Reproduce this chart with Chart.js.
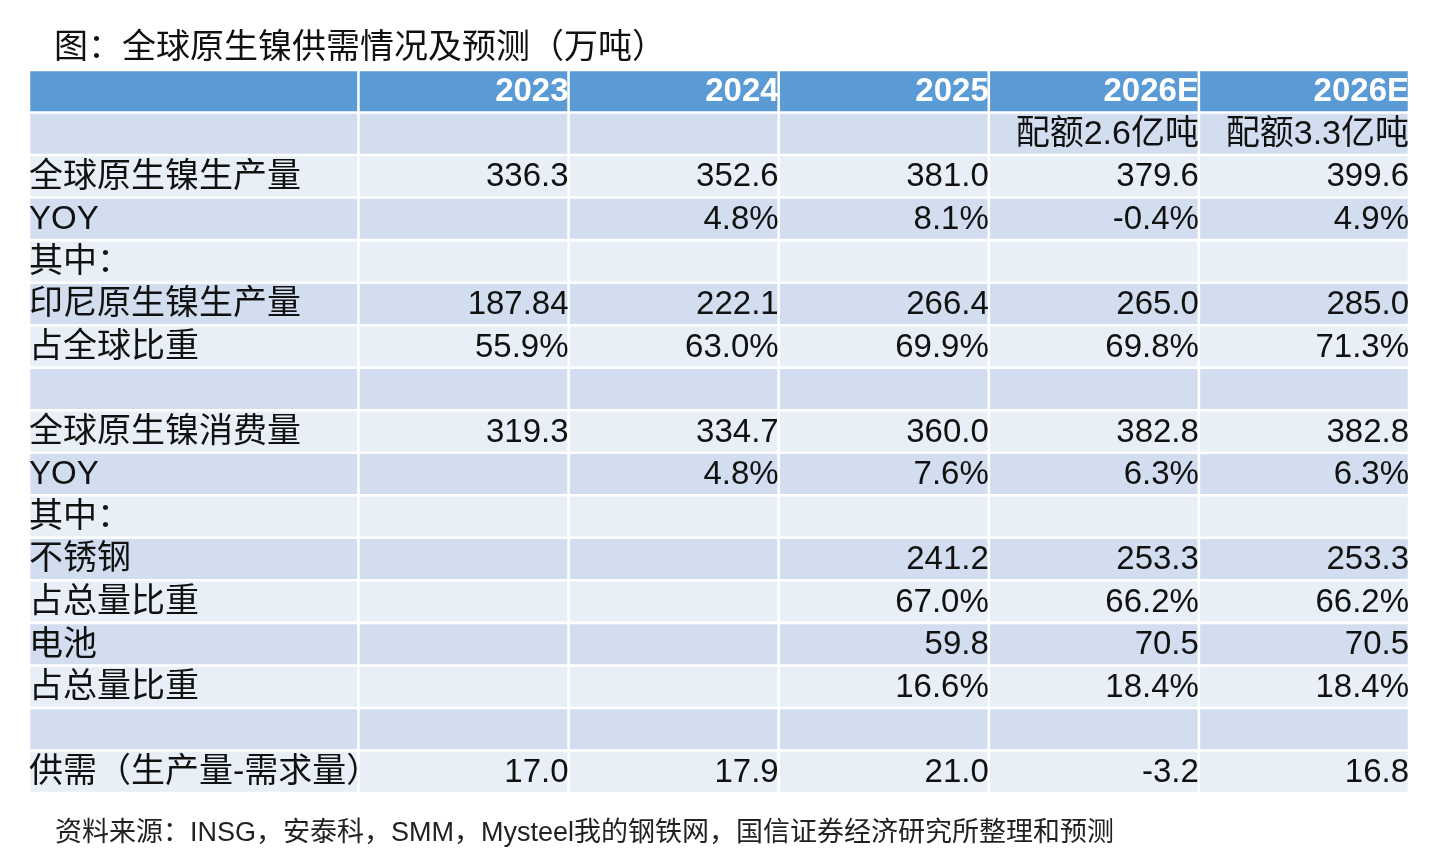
<!DOCTYPE html>
<html>
<head>
<meta charset="utf-8">
<script src="https://cdn.jsdelivr.net/npm/chart.js@4.4.1/dist/chart.umd.min.js"></script>
<style>
  html, body { margin: 0; padding: 0; background: #fff; }
  #wrap { position: relative; width: 1440px; height: 852px; }
  #title { position: absolute; left: 54px; top: 19px; font: 34px "Noto Sans CJK SC", sans-serif; color: #111; white-space: nowrap; }
  #source { position: absolute; left: 55px; top: 810px; font: 27px "Liberation Sans", "Noto Sans CJK SC", sans-serif; color: #222; white-space: nowrap; }
  canvas { position: absolute; left: 0; top: 0; }
</style>
</head>
<body>
<div id="wrap">
  <canvas id="tableChart" width="1440" height="852"></canvas>
  <div id="title">图：全球原生镍供需情况及预测（万吨）</div>
  <div id="source">资料来源：INSG，安泰科，SMM，Mysteel我的钢铁网，国信证券经济研究所整理和预测</div>
</div>
<script>
// Data (万吨 / %)
const years = ['2023', '2024', '2025', '2026E', '2026E'];
const scenarios = ['', '', '', '配额2.6亿吨', '配额3.3亿吨'];
const prodGlobal = [336.3, 352.6, 381.0, 379.6, 399.6];
const prodYoy = [null, 4.8, 8.1, -0.4, 4.9];
const prodIndo = [187.84, 222.1, 266.4, 265.0, 285.0];
const indoShare = [55.9, 63.0, 69.9, 69.8, 71.3];
const consGlobal = [319.3, 334.7, 360.0, 382.8, 382.8];
const consYoy = [null, 4.8, 7.6, 6.3, 6.3];
const stainless = [null, null, 241.2, 253.3, 253.3];
const stainlessShare = [null, null, 67.0, 66.2, 66.2];
const battery = [null, null, 59.8, 70.5, 70.5];
const batteryShare = [null, null, 16.6, 18.4, 18.4];
const balance = [17.0, 17.9, 21.0, -3.2, 16.8];

// Table rows: [label, values, kind]
const rows = [
    ['', years, 'head'],
    ['', scenarios, 'text'],
    ['全球原生镍生产量', prodGlobal, 'num'],
    ['YOY', prodYoy, 'pct'],
    ['其中：', [], 'num'],
    ['印尼原生镍生产量', prodIndo, 'num'],
    ['占全球比重', indoShare, 'pct'],
    ['', [], 'num'],
    ['全球原生镍消费量', consGlobal, 'num'],
    ['YOY', consYoy, 'pct'],
    ['其中：', [], 'num'],
    ['不锈钢', stainless, 'num'],
    ['占总量比重', stainlessShare, 'pct'],
    ['电池', battery, 'num'],
    ['占总量比重', batteryShare, 'pct'],
    ['', [], 'num'],
    ['供需（生产量-需求量）', balance, 'num']
];

// Column edges on the x scale (label column is wider)
const colEdges = [0, 1.568, 2.568, 3.568, 4.568, 5.568, 6.568];

const HEAD_BG = '#5b9bd5';
const DARK_BG = '#d2deef';
const LIGHT_BG = '#e9eff7';
const FONT = '"Liberation Sans", "Noto Sans CJK SC", sans-serif';
const hasCJK = s => /[\u3000-\u9fff\uff00-\uffef]/.test(s);

function fmt(v, kind) {
    if (v === null || v === undefined || v === '') return '';
    if (kind === 'head' || kind === 'text') return v;
    const s = Math.abs(v * 10 - Math.round(v * 10)) < 1e-6 ? v.toFixed(1) : String(v);
    return kind === 'pct' ? s + '%' : s;
}

function rowColor(ctx) {
    const i = ctx.dataIndex;
    if (i === 0) return HEAD_BG;
    return i % 2 === 1 ? DARK_BG : LIGHT_BG;
}

const datasets = [];
for (let c = 0; c < colEdges.length - 1; c++) {
    datasets.push({
        label: c === 0 ? 'label' : years[c - 1],
        data: rows.map(() => [colEdges[c], colEdges[c + 1]]),
        backgroundColor: rowColor,
        borderColor: '#ffffff',
        borderWidth: 1.6,
        borderSkipped: false,
        grouped: false,
        barPercentage: 1,
        categoryPercentage: 1
    });
}

// Writes the cell texts into the bars
const cellText = {
    id: 'cellText',
    afterDatasetsDraw(chart) {
        const ctx = chart.ctx;
        ctx.save();
        ctx.textBaseline = 'middle';
        chart.data.datasets.forEach((ds, c) => {
            chart.getDatasetMeta(c).data.forEach((bar, r) => {
                const [label, values, kind] = rows[r];
                const text = c === 0 ? label : fmt(values[c - 1], kind);
                if (!text) return;
                const size = hasCJK(text) ? 34 : 33;
                if (kind === 'head') {
                    ctx.font = 'bold ' + size + 'px ' + FONT;
                    ctx.fillStyle = '#ffffff';
                } else {
                    ctx.font = size + 'px ' + FONT;
                    ctx.fillStyle = '#111111';
                }
                const left = Math.min(bar.x, bar.base);
                const right = Math.max(bar.x, bar.base);
                if (c === 0) {
                    ctx.textAlign = 'left';
                    ctx.fillText(text, left, bar.y + 1);
                } else {
                    ctx.textAlign = 'right';
                    ctx.fillText(text, right, bar.y + 1);
                }
            });
        });
        ctx.restore();
    }
};

new Chart(document.getElementById('tableChart'), {
    type: 'bar',
    data: { labels: rows.map((r, i) => 'r' + i), datasets: datasets },
    options: {
        indexAxis: 'y',
        responsive: false,
        animation: false,
        layout: { padding: { left: 29, right: 31, top: 70, bottom: 59 } },
        scales: {
            x: { type: 'linear', min: colEdges[0], max: colEdges[colEdges.length - 1], display: false },
            y: { type: 'category', display: false }
        },
        plugins: { legend: { display: false }, tooltip: { enabled: false } }
    },
    plugins: [cellText]
});
</script>
</body>
</html>
